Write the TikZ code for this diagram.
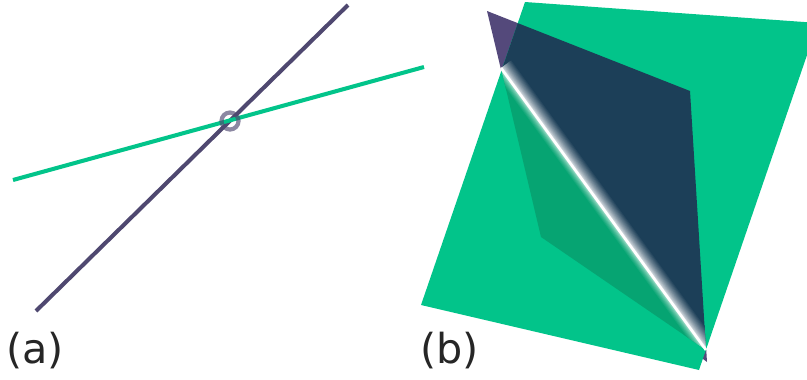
\documentclass[tikz,border=0pt]{standalone}
\usepackage{fontspec}
\setmainfont{DejaVu Sans}
\definecolor{planegreen}{HTML}{02C48A}
\definecolor{planepurple}{HTML}{54497B}
\definecolor{planenavy}{HTML}{1C3F58}
\definecolor{undergreen}{HTML}{06A472}
\definecolor{linepurple}{HTML}{4F4870}
\begin{document}
\begin{tikzpicture}[x=0.02cm, y=-0.02cm]
% Styles
\tikzstyle{caption} = [inner sep=0pt, font=\fontsize{23.5pt}{26pt}\selectfont, text=black!85]
\tikzstyle{lineA} = [line width=2.3pt, linepurple]
\tikzstyle{lineB} = [line width=2.3pt, planegreen]

\clip (0,0) rectangle (807,379);

% Coordinates
\coordinate (pa) at (36,311);
\coordinate (pb) at (348,5);
\coordinate (ga) at (13,180);
\coordinate (gb) at (424,67);
\coordinate (cross) at (230,121);
\coordinate (sa) at (501,68);
\coordinate (sb) at (706,350);
\coordinate (ea) at (480.5,39.8);
\coordinate (eb) at (726.5,378.2);

% Panel (a)
\draw [lineA] (pa) -- (pb);
\draw [lineB] (ga) -- (gb);
\draw [linepurple, opacity=0.65, line width=2.4pt] (cross) circle (8.5);

% Panel (b)
\fill [planepurple] (487,11) -- (690,91) -- (707,362) -- (541,237) -- cycle;
\fill [planegreen] (525,2) -- (818,23) -- (699,370) -- (421,305) -- cycle;
\fill [undergreen] (sa) -- (541,237) -- (sb) -- cycle;
\begin{scope}
\clip (525,2) -- (818,23) -- (699,370) -- (421,305) -- cycle;
\fill [planenavy] (487,11) -- (690,91) -- (sb) -- (sa) -- cycle;
\end{scope}

% Glow along the intersection
\begin{scope}
\clip (sa) -- (517,56) -- (690,91) -- (sb) -- cycle;
\foreach \i in {13,...,0} {
  \pgfmathsetmacro{\mixval}{100*(\i/13)^0.7}
  \draw [planenavy!\mixval!white, line width=0.8pt] ([shift={(\i*0.809,-\i*0.588)}]ea) -- ([shift={(\i*0.809,-\i*0.588)}]eb);
}
\end{scope}
\begin{scope}
\clip (sa) -- (541,237) -- (sb) -- cycle;
\foreach \i in {8,...,0} {
  \pgfmathsetmacro{\mixval}{100*(\i/8)^0.5}
  \draw [undergreen!\mixval!white, line width=0.8pt] ([shift={(-\i*0.809,\i*0.588)}]ea) -- ([shift={(-\i*0.809,\i*0.588)}]eb);
}
\end{scope}
\draw [white, line width=1.5pt] (sa) -- (sb);

% Labels
\node (capa) [caption, anchor=west] at (6,351) {(a)};
\node (capb) [caption, anchor=west] at (420,351) {(b)};
\end{tikzpicture}
\end{document}
